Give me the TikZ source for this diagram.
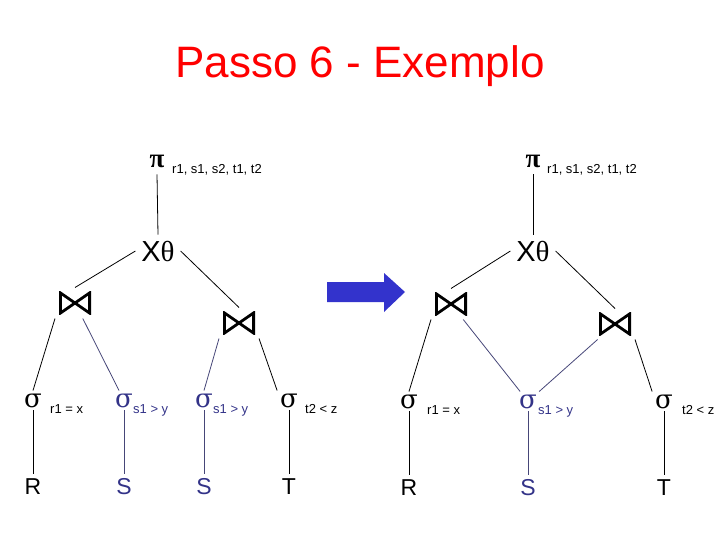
\documentclass[tikz,border=0pt]{standalone}
\usepackage{fontspec}
\setmainfont{Liberation Sans}
\newfontfamily\grk{Liberation Serif}
\newfontfamily\sgm{DejaVu Serif}
\definecolor{arrblue}{RGB}{51,51,204}
\definecolor{relblue}{RGB}{51,51,136}
\definecolor{lineblue}{RGB}{70,70,120}

\begin{document}
\begin{tikzpicture}[x=1pt,y=-1pt,
    heading/.style={font=\fontsize{44}{44}\selectfont,text=red},
    proj/.style={font=\grk\bfseries\fontsize{27}{27}\selectfont,inner sep=1pt,outer sep=5pt,anchor=base},
    cross/.style={font=\fontsize{29}{29}\selectfont,inner sep=1pt,outer sep=5pt,anchor=base},
    sel/.style={font=\sgm\fontsize{26}{26}\selectfont,inner sep=1pt,outer sep=2pt,anchor=base},
    sub/.style={font=\fontsize{13}{13}\selectfont,inner sep=0pt,anchor=base west},
    rel/.style={font=\fontsize{23}{23}\selectfont,inner sep=1pt,outer sep=3pt,anchor=base},
    joinop/.style={minimum width=32pt,minimum height=23pt,inner sep=0pt,outer sep=4pt,
      path picture={\draw[line width=2.8pt]
        ([shift={(1.4pt,-1.4pt)}]path picture bounding box.north west) --
        ([shift={(-1.4pt,1.4pt)}]path picture bounding box.south east) --
        ([shift={(-1.4pt,-1.4pt)}]path picture bounding box.north east) --
        ([shift={(1.4pt,1.4pt)}]path picture bounding box.south west) -- cycle;}},
    tline/.style={draw,line width=0.8pt},
    bline/.style={draw=lineblue,line width=0.8pt}]
    \useasboundingbox (0,0) rectangle (720,540);

    \node[heading] (title) at (360,66) {Passo 6 - Exemplo};

    \node[proj] (projl) at (157,168) {π};
    \node[sub] (projlsub) at (172,174) {r1, s1, s2, t1, t2};
    \node[cross] (thetal) at (158,261) {X{\grk θ}};
    \node[joinop] (joinla) at (75,303) {};
    \node[joinop] (joinlb) at (239,323) {};
    \node[sel] (sigla) at (33,407) {σ};
    \node[sub] (siglasub) at (50,413) {r1 = x};
    \node[sel,text=relblue] (siglb) at (124,407) {σ};
    \node[sub,text=relblue] (siglbsub) at (133,413) {s1 > y};
    \node[sel,text=relblue] (siglc) at (204,407) {σ};
    \node[sub,text=relblue] (siglcsub) at (213,413) {s1 > y};
    \node[sel] (sigld) at (289,407) {σ};
    \node[sub] (sigldsub) at (305,413) {t2 < z};
    \node[rel] (rella) at (33,494) {R};
    \node[rel,text=relblue] (rellb) at (124,494) {S};
    \node[rel,text=relblue] (rellc) at (204,494) {S};
    \node[rel] (relld) at (289,494) {T};

    \fill[arrblue] (327,282) -- (384,282) -- (384,273) -- (405,292) -- (384,312) -- (384,302) -- (327,302) -- cycle;

    \node[proj] (projr) at (533,168) {π};
    \node[sub] (projrsub) at (547,174) {r1, s1, s2, t1, t2};
    \node[cross] (thetar) at (533,261) {X{\grk θ}};
    \node[joinop] (joinra) at (451,304) {};
    \node[joinop] (joinrb) at (615,324) {};
    \node[sel] (sigra) at (409,408) {σ};
    \node[sub] (sigrasub) at (427,414) {r1 = x};
    \node[sel,text=relblue] (sigrb) at (528,408) {σ};
    \node[sub,text=relblue] (sigrbsub) at (538,414) {s1 > y};
    \node[sel] (sigrc) at (664,408) {σ};
    \node[sub] (sigrcsub) at (682,414) {t2 < z};
    \node[rel] (relra) at (409,495) {R};
    \node[rel,text=relblue] (relrb) at (528,495) {S};
    \node[rel] (relrc) at (664,495) {T};

    \draw[tline] (projl.south) -- (thetal.north);
    \draw[tline] (thetal.west) -- (joinla.north);
    \draw[tline] (thetal.east) -- (joinlb.north);
    \draw[tline] (joinla.south west) -- (sigla.north);
    \draw[bline] (joinla) -- (siglb);
    \draw[bline] (joinlb.south west) -- (siglc.north);
    \draw[tline] (joinlb.south east) -- (sigld.north west);
    \draw[tline] (sigla.south) -- (rella.north);
    \draw[bline] (siglb.south) -- (rellb.north);
    \draw[bline] (siglc.south) -- (rellc.north);
    \draw[tline] (sigld.south) -- (relld.north);

    \draw[tline] (projr.south) -- (thetar.north);
    \draw[tline] (thetar.west) -- (joinra.north);
    \draw[tline] (thetar.east) -- (joinrb.north);
    \draw[tline] (joinra.south west) -- (sigra.north);
    \draw[bline] (joinra) -- (sigrb);
    \draw[bline] (joinrb) -- (sigrb);
    \draw[tline] (joinrb.south east) -- (sigrc.north west);
    \draw[tline] (sigra.south) -- (relra.north);
    \draw[bline] (sigrb.south) -- (relrb.north);
    \draw[tline] (sigrc.south) -- (relrc.north);
\end{tikzpicture}
\end{document}
